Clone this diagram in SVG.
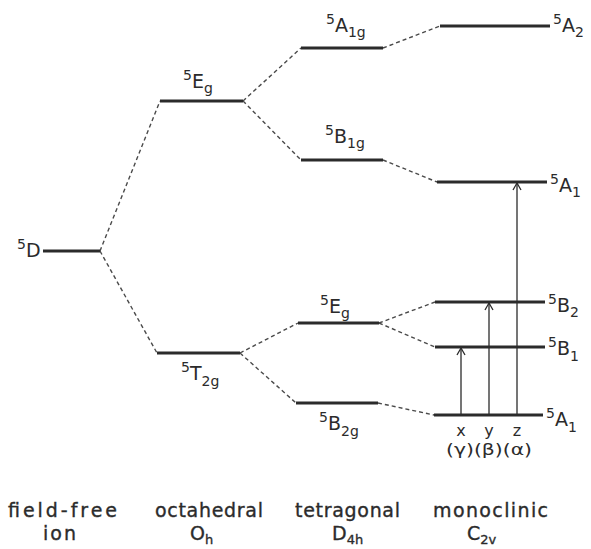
<svg xmlns="http://www.w3.org/2000/svg" width="591" height="549" viewBox="0 0 591 549">
  <style>
    .lvl { stroke: #2b2b2b; stroke-width: 3; stroke-linecap: butt; }
    .dash { stroke: #4a4a4a; stroke-width: 1.4; stroke-dasharray: 4 3; fill: none; }
    .arr { stroke: #2b2b2b; stroke-width: 1.3; fill: none; }
    text { font-family: "DejaVu Sans", "Liberation Sans", sans-serif; fill: #2b2b2b; }
    .main { font-size: 19px; }
    .sup { font-size: 14px; }
    .sub { font-size: 14px; }
    .cap { font-size: 19px; stroke: #2b2b2b; stroke-width: 0.35; }
    .csub { font-size: 13px; }
    .ax { font-size: 16px; }
  </style>
  <defs>
    <marker id="head" markerWidth="10" markerHeight="10" refX="8" refY="5" orient="auto" markerUnits="userSpaceOnUse">
      <path d="M1,1 L8,5 L1,9" fill="none" stroke="#2b2b2b" stroke-width="1.3"/>
    </marker>
  </defs>

  <!-- correlation connectors between levels -->
  <g id="connectors">
    <line class="dash" x1="100" y1="251" x2="160" y2="101"/>
    <line class="dash" x1="100" y1="251" x2="157" y2="353"/>
    <line class="dash" x1="243" y1="101" x2="301" y2="48"/>
    <line class="dash" x1="243" y1="101" x2="301" y2="160"/>
    <line class="dash" x1="240" y1="353" x2="298" y2="323"/>
    <line class="dash" x1="240" y1="353" x2="296" y2="403"/>
    <line class="dash" x1="383" y1="48" x2="440" y2="26"/>
    <line class="dash" x1="383" y1="160" x2="437" y2="182"/>
    <line class="dash" x1="379" y1="323" x2="435" y2="302"/>
    <line class="dash" x1="379" y1="323" x2="435" y2="347"/>
    <line class="dash" x1="378" y1="403" x2="434" y2="415"/>
    <!-- polarized transitions from the ground state -->
    <line class="arr" x1="461" y1="415" x2="461" y2="348" marker-end="url(#head)"/>
    <line class="arr" x1="489" y1="415" x2="489" y2="303" marker-end="url(#head)"/>
    <line class="arr" x1="517" y1="415" x2="517" y2="183" marker-end="url(#head)"/>
  </g>

  <!-- field-free ion -->
  <g id="D">
    <line class="lvl" x1="43" y1="251" x2="100" y2="251"/>
    <text x="17" y="257"><tspan class="sup" y="249">5</tspan><tspan class="main" y="257">D</tspan></text>
  </g>

  <!-- octahedral -->
  <g id="Eg-oh">
    <line class="lvl" x1="160" y1="101" x2="243" y2="101"/>
    <text x="183" y="88"><tspan class="sup" y="80">5</tspan><tspan class="main" y="88">E</tspan><tspan class="sub" y="93">g</tspan></text>
  </g>
  <g id="T2g-oh">
    <line class="lvl" x1="157" y1="353" x2="240" y2="353"/>
    <text x="181" y="380"><tspan class="sup" y="372">5</tspan><tspan class="main" y="380">T</tspan><tspan class="sub" y="386">2g</tspan></text>
  </g>

  <!-- tetragonal -->
  <g id="A1g-d4h">
    <line class="lvl" x1="301" y1="48" x2="383" y2="48"/>
    <text x="326" y="32"><tspan class="sup" y="24">5</tspan><tspan class="main" y="32">A</tspan><tspan class="sub" y="37">1g</tspan></text>
  </g>
  <g id="B1g-d4h">
    <line class="lvl" x1="301" y1="160" x2="383" y2="160"/>
    <text x="325" y="143"><tspan class="sup" y="135">5</tspan><tspan class="main" y="143">B</tspan><tspan class="sub" y="148">1g</tspan></text>
  </g>
  <g id="Eg-d4h">
    <line class="lvl" x1="298" y1="323" x2="379" y2="323"/>
    <text x="320" y="313"><tspan class="sup" y="305">5</tspan><tspan class="main" y="313">E</tspan><tspan class="sub" y="318">g</tspan></text>
  </g>
  <g id="B2g-d4h">
    <line class="lvl" x1="296" y1="403" x2="378" y2="403"/>
    <text x="319" y="430"><tspan class="sup" y="422">5</tspan><tspan class="main" y="430">B</tspan><tspan class="sub" y="436">2g</tspan></text>
  </g>

  <!-- monoclinic -->
  <g id="A2-c2v">
    <line class="lvl" x1="440" y1="26" x2="550" y2="26"/>
    <text x="553" y="32"><tspan class="sup" y="24">5</tspan><tspan class="main" y="32">A</tspan><tspan class="sub" y="37">2</tspan></text>
  </g>
  <g id="A1-upper-c2v">
    <line class="lvl" x1="437" y1="182" x2="547" y2="182"/>
    <text x="550" y="192"><tspan class="sup" y="184">5</tspan><tspan class="main" y="192">A</tspan><tspan class="sub" y="197">1</tspan></text>
  </g>
  <g id="B2-c2v">
    <line class="lvl" x1="435" y1="302" x2="545" y2="302"/>
    <text x="548" y="312"><tspan class="sup" y="304">5</tspan><tspan class="main" y="312">B</tspan><tspan class="sub" y="317">2</tspan></text>
  </g>
  <g id="B1-c2v">
    <line class="lvl" x1="435" y1="347" x2="545" y2="347"/>
    <text x="548" y="355"><tspan class="sup" y="347">5</tspan><tspan class="main" y="355">B</tspan><tspan class="sub" y="361">1</tspan></text>
  </g>
  <g id="A1-lower-c2v">
    <line class="lvl" x1="434" y1="415" x2="543" y2="415"/>
    <text x="546" y="426"><tspan class="sup" y="418">5</tspan><tspan class="main" y="426">A</tspan><tspan class="sub" y="432">1</tspan></text>
  </g>

  <!-- transition polarizations -->
  <g id="polarizations">
    <text class="ax" x="461" y="436" text-anchor="middle">x</text>
    <text class="ax" x="489" y="436" text-anchor="middle">y</text>
    <text class="ax" x="517" y="436" text-anchor="middle">z</text>
    <text class="ax" x="446" y="455" textLength="86" lengthAdjust="spacingAndGlyphs">(γ)(β)(α)</text>
  </g>

  <!-- symmetry captions -->
  <g id="captions">
    <text class="cap" x="8" y="517" textLength="109" lengthAdjust="spacing">field-free</text>
    <text class="cap" x="43" y="540" textLength="33" lengthAdjust="spacing">ion</text>
    <text class="cap" x="155" y="517" textLength="108" lengthAdjust="spacing">octahedral</text>
    <text class="cap" x="190" y="540">O<tspan class="csub" dy="4">h</tspan></text>
    <text class="cap" x="295" y="517" textLength="105" lengthAdjust="spacing">tetragonal</text>
    <text class="cap" x="332" y="540">D<tspan class="csub" dy="4">4h</tspan></text>
    <text class="cap" x="433" y="517" textLength="115" lengthAdjust="spacing">monoclinic</text>
    <text class="cap" x="467" y="540">C<tspan class="csub" dy="4">2v</tspan></text>
  </g>
</svg>
